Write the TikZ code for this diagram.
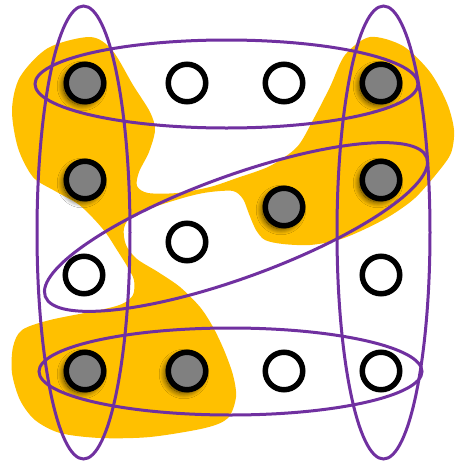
\documentclass[tikz,border=0pt]{standalone}
\usetikzlibrary{shadows.blur}
\definecolor{gold}{HTML}{FFC000}
\definecolor{hpurple}{HTML}{7030A0}
\tikzset{
  vtx/.style={circle, draw=black, line width=5.5pt, minimum size=37.5pt, inner sep=0pt},
  full/.style={vtx, fill=black!50,
    blur shadow={shadow xshift=-3pt, shadow yshift=-3pt, shadow blur radius=6pt, shadow opacity=80, shadow blur steps=12}},
  empty/.style={vtx, fill=white},
  hedge/.style={draw=hpurple, line width=3pt}
}
\begin{document}
\begin{tikzpicture}[x=1pt, y=-1pt]
\useasboundingbox (0,0) rectangle (455,464);
\fill[white] (0,0) rectangle (455,464);
% yellow region
\fill[gold] plot[smooth cycle, tension=0.5] coordinates {
(90,37) (112,50) (133,85) (150,112) (155,130) (149,152) (139,172) (137,186)
(148,193) (177,193) (210,187) (237,178) (270,166) (297,147) (313,120) (330,87)
(345,55) (370,37) (403,46) (430,72) (447,103) (454,130) (451,153) (438,172)
(415,198) (390,216) (363,230) (338,240) (310,245) (283,244) (265,240) (256,230)
(249,214) (243,199) (233,191) (210,192) (190,196) (160,205) (133,215) (124,228)
(126,245) (137,259) (158,272) (180,287) (200,307) (213,327) (224,350) (233,375)
(236,397) (228,418) (205,428) (150,437) (100,438) (60,433) (35,420) (20,400)
(12,373) (13,347) (22,330) (50,320) (100,310) (122,304) (133,295) (134,280)
(127,266) (117,250) (106,233) (93,218) (78,204) (55,191) (33,177) (18,148)
(12,110) (20,77) (48,48)};
% vertices
\node[full] (f1) at (85,83) {};
\node[empty] (e1) at (187,83) {};
\node[empty] (e2) at (284,83) {};
\node[full] (f3) at (381,83) {};
\node[full] (f2) at (85,180) {};
\node[full] (f4) at (381,180) {};
\node[full] (f5) at (284,207) {};
\node[empty] (e3) at (187,242) {};
\node[empty] (e4) at (84,275) {};
\node[empty] (e5) at (381,275) {};
\node[full] (f6) at (85,371) {};
\node[full] (f7) at (187,371) {};
\node[empty] (e6) at (284,371) {};
\node[empty] (e7) at (381,371) {};
% hyperedges
\draw[hedge] (226.5,84) ellipse [x radius=191.5, y radius=44];
\draw[hedge] (230.5,371.5) ellipse [x radius=191.5, y radius=43.5];
\draw[hedge] (83.5,232.5) ellipse [x radius=46.5, y radius=226.5];
\draw[hedge] (383.5,232.5) ellipse [x radius=46.5, y radius=226.5];
\draw[hedge, rotate around={20:(236,227)}] (236,227) ellipse [x radius=203, y radius=51];
\end{tikzpicture}
\end{document}
